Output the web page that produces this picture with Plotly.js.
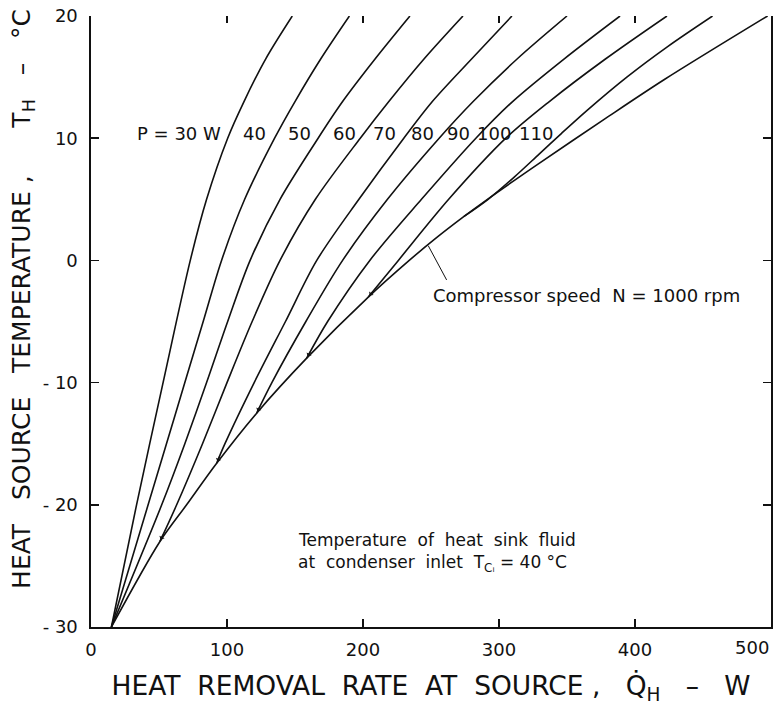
<!DOCTYPE html>
<html><head><meta charset="utf-8">
<script src="https://cdn.plot.ly/plotly-3.0.1.min.js"></script>
<style>html,body{margin:0;padding:0;background:#fff;} #chart{width:774px;height:706px;}</style>
</head><body><div id="chart"></div>
<script>
// ---- data ----
const powerLevels = [30, 40, 50, 60, 70, 80, 90, 100, 110];
const powerLabels = ["P = 30 W", "40", "50", "60", "70", "80", "90", "100", "110"];

// Heat source temperature T_H (°C) and heat removal rate Q_H (W) for each power curve
const T_P30  = [-30, -20, -10, 0, 5, 10, 13, 16.5, 20];
const Q_P30  = [15, 33.5, 53, 73, 85, 100.5, 112.5, 128.5, 148];
const T_P40  = [-30, -20, -15, -10, -5, 0, 5, 10, 13, 16.5, 20];
const Q_P40  = [15, 42, 55.5, 69, 82.5, 96, 113, 135, 150, 169, 190];
const T_P50  = [-30, -20, -15, -10, -5, 0, 5, 10, 13, 16.5, 20];
const Q_P50  = [15, 52, 69, 85, 100.5, 117, 139, 167, 185, 209, 234.5];
const T_P60  = [-23, -20, -15, -10, -5, 0, 5, 10, 13, 16.5, 20];
const Q_P60  = [50.7, 63, 82, 100, 118.5, 139, 165, 198, 219, 245, 273.5];
const T_P70  = [-16.6, -15, -10, -5, 0, 5, 10, 13, 16.5, 20];
const Q_P70  = [92.4, 98.5, 120, 143, 166, 197, 230, 251, 280, 309.5];
const T_P80  = [-12.5, -10, -5, 0, 5, 10, 13, 16.5, 20];
const Q_P80  = [121.8, 133, 158, 185, 218, 256, 281, 313.5, 350];
const T_P90  = [-8, -5, 0, 5, 10, 13, 16.5, 20];
const Q_P90  = [158.6, 174, 205, 243, 283, 310, 348, 389];
const T_P100 = [-3, 0, 5, 10, 13, 16.5, 20];
const Q_P100 = [203.9, 226, 263, 305, 337, 378.5, 423.5];
const T_P110 = [3.6, 5, 6.8, 8.7, 10.4, 12.3, 15, 17.5, 20];
const Q_P110 = [274.3, 292, 311, 329.5, 346, 365, 394, 424, 457];

// Limiting curve: compressor speed N = 1000 rpm
const T_N1000 = [-30, -23, -20, -16.6, -12.5, -8, -3, 0, 1.8, 3.6, 5, 7.8, 11.6, 14.8, 20];
const Q_N1000 = [15, 50.7, 70.3, 92.4, 121.8, 158.6, 203.9, 234, 253.4, 274.3, 291.5, 327.6, 378.1, 421.6, 497.5];

// Axis ticks
const xTickVals = [0, 100, 200, 300, 400, 500];
const xTickText = ["0", "100", "200", "300", "400", "500"];
const yTickVals = [-30, -20, -10, 0, 10, 20];
const yTickText = ["- 30", "- 20", "- 10", "0", "10", "20"];

// ---- chart ----
const curveT = [T_P30, T_P40, T_P50, T_P60, T_P70, T_P80, T_P90, T_P100, T_P110];
const curveQ = [Q_P30, Q_P40, Q_P50, Q_P60, Q_P70, Q_P80, Q_P90, Q_P100, Q_P110];

const INK = '#111';
const lineStyle = {color: INK, width: 1.6, shape: 'spline', smoothing: 0.9};
const traces = powerLevels.map((p, i) => ({
  type: 'scatter', mode: 'lines', name: 'P = ' + p + ' W',
  x: curveQ[i], y: curveT[i], line: lineStyle, showlegend: false, hoverinfo: 'x+y+name'
}));
traces.push({
  type: 'scatter', mode: 'lines', name: 'N = 1000 rpm',
  x: Q_N1000, y: T_N1000, line: lineStyle, showlegend: false
});
// carrier trace for the top tick axis
traces.push({
  type: 'scatter', mode: 'lines', x: Q_N1000, y: T_N1000, xaxis: 'x2',
  line: {width: 0}, opacity: 0, showlegend: false, hoverinfo: 'skip'
});

const FONT = 'DejaVu Sans, sans-serif';
const NB = '\u00a0';
const sp = n => NB.repeat(n);

// label anchor positions (right edge of each label, data units)
const labelRightQ = [97, 130, 163, 196, 226, 253.5, 280.5, 310, 341.5];
const labelT = 10.35;

const annotations = powerLabels.map((txt, i) => ({
  x: labelRightQ[i], y: labelT, xref: 'x', yref: 'y', text: txt,
  showarrow: false, xanchor: 'right', yanchor: 'middle',
  font: {family: FONT, size: 18, color: INK}
}));
// small arrow marks where the P curves leave the N = 1000 rpm curve
[3, 4, 5, 6, 7].forEach(i => {
  const q0 = curveQ[i][0], t0 = curveT[i][0], q1 = curveQ[i][1], t1 = curveT[i][1];
  const dxPx = (q1 - q0) * 1.36, dyPx = -(t1 - t0) * 12.24;
  const len = Math.hypot(dxPx, dyPx);
  annotations.push({
    x: q0, y: t0, xref: 'x', yref: 'y', text: '', showarrow: true,
    ax: dxPx / len * 9, ay: dyPx / len * 9,
    arrowhead: 1, arrowsize: 0.8, arrowwidth: 1.2, arrowcolor: INK, standoff: 2
  });
});
annotations.push({
  x: 250, y: -2.85, xref: 'x', yref: 'y', xanchor: 'left', yanchor: 'middle',
  text: 'Compressor' + sp(1) + 'speed' + sp(2) + 'N = 1000' + sp(1) + 'rpm', showarrow: false,
  font: {family: FONT, size: 18, color: INK}
});
annotations.push({
  x: 151, y: -22.9, xref: 'x', yref: 'y', xanchor: 'left', yanchor: 'middle',
  text: 'Temperature' + sp(2) + 'of' + sp(2) + 'heat' + sp(2) + 'sink' + sp(2) + 'fluid',
  showarrow: false, font: {family: FONT, size: 17, color: INK}
});
annotations.push({
  x: 151, y: -24.8, xref: 'x', yref: 'y', xanchor: 'left', yanchor: 'middle',
  text: 'at' + sp(2) + 'condenser' + sp(2) + 'inlet' + sp(2) + 'T<sub>C\u1d62</sub>' + sp(1) + '=' + sp(1) + '40' + sp(1) + '\u00b0C',
  showarrow: false, font: {family: FONT, size: 17, color: INK}
});
// last x tick label, right-aligned to the frame like the original
annotations.push({
  x: xTickVals[5], y: 0, xref: 'x', yref: 'paper', xanchor: 'right', yanchor: 'top',
  yshift: -8, text: xTickText[5], showarrow: false,
  font: {family: FONT, size: 18, color: INK}
});
// y axis title (placed like the original, slightly above the axis centre)
annotations.push({
  x: -0.1, y: 0.537, xref: 'paper', yref: 'paper', xanchor: 'center', yanchor: 'middle',
  textangle: -90, showarrow: false,
  text: 'HEAT' + sp(3) + 'SOURCE' + sp(3) + 'TEMPERATURE ,' + sp(6) + 'T<sub>H</sub>' + sp(3) + '\u2013' + sp(3) + '\u00b0C',
  font: {family: FONT, size: 25, color: INK}
});

const layout = {
  width: 774, height: 706,
  margin: {l: 91, r: 3, t: 16, b: 79},
  paper_bgcolor: '#fff', plot_bgcolor: '#fff',
  font: {family: FONT, color: INK},
  showlegend: false,
  xaxis: {
    range: [0, 500], tickvals: xTickVals.slice(0, 5), ticktext: xTickText.slice(0, 5),
    ticks: 'inside', ticklen: 8, tickwidth: 1.5, tickcolor: INK,
    showline: true, linecolor: INK, linewidth: 1.6, mirror: false,
    showgrid: false, zeroline: false, ticklabelstandoff: 6,
    tickfont: {family: FONT, size: 18, color: INK},
    title: {text: 'HEAT' + sp(2) + 'REMOVAL' + sp(2) + 'RATE' + sp(2) + 'AT' + sp(2) + 'SOURCE ,' + sp(3) + 'Q\u0307<sub>H</sub>' + sp(3) + '\u2013' + sp(3) + 'W',
      font: {family: FONT, size: 26.5, color: INK}, standoff: 17}
  },
  xaxis2: {
    range: [0, 500], overlaying: 'x', side: 'top', anchor: 'y',
    tickvals: [100, 200, 300, 400], ticks: 'inside', ticklen: 7, tickwidth: 1.3, tickcolor: INK,
    showticklabels: false, showline: false, showgrid: false, zeroline: false
  },
  yaxis: {
    range: [-30, 20], tickvals: yTickVals, ticktext: yTickText,
    ticks: 'inside', ticklen: 8, tickwidth: 1.5, tickcolor: INK,
    showline: true, linecolor: INK, linewidth: 1.6, mirror: 'ticks',
    showgrid: false, zeroline: false, ticklabelstandoff: 8,
    tickfont: {family: FONT, size: 18, color: INK}
  },
  annotations: annotations,
  shapes: [{
    type: 'line', xref: 'x', yref: 'y', x0: 248, y0: 1.2, x1: 261.5, y1: -1.6,
    line: {color: INK, width: 1}
  }]
};

Plotly.newPlot('chart', traces, layout, {displayModeBar: false, staticPlot: true});
</script>
</body></html>
